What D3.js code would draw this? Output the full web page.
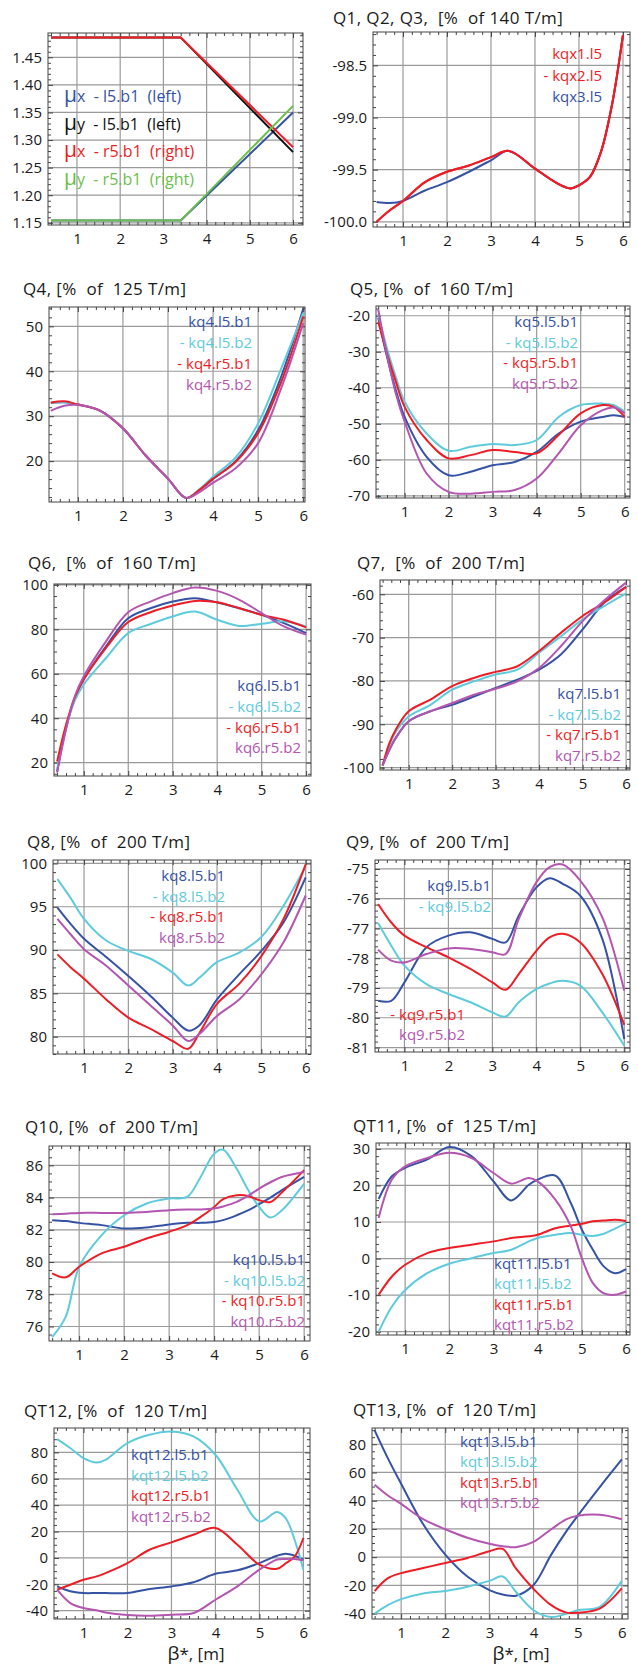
<!DOCTYPE html>
<html>
<head>
<meta charset="utf-8">
<script src="https://cdn.jsdelivr.net/npm/d3@7"></script>
<style>
body { margin: 0; background: #fff; }
svg text { font-family: "Open Sans", sans-serif; white-space: pre; fill: #1a1a1a; }
</style>
</head>
<body>
<svg id="chart" width="638" height="1670"></svg>
<script>
var BLUE = "#3552a4", CYAN = "#5ecbdc", RED = "#ee1d25", MAG = "#b455b0", GREEN = "#6cbf4a", BLACK = "#111111";

var xTicks = [1, 2, 3, 4, 5, 6];

// tunes (panel 1)
var betaMu = [0.4, 3.4, 6];
var muxL5 = [1.154, 1.154, 1.350];
var muyL5 = [1.486, 1.486, 1.278];
var muxR5 = [1.486, 1.486, 1.287];
var muyR5 = [1.154, 1.154, 1.362];
var muSub = ["x", "y", "x", "y"];
var muText = ["  - l5.b1  (left)", "  - l5.b1  (left)", "  - r5.b1  (right)", "  - r5.b1  (right)"];

// Q1, Q2, Q3
var betaQ13 = [0.4, 0.7, 1, 1.5, 2, 2.5, 3, 3.4, 4, 4.5, 4.8, 5, 5.25, 5.5, 5.75, 6];
var kqx1 = [-100.0, -99.89, -99.80, -99.62, -99.52, -99.46, -99.38, -99.32, -99.49, -99.63, -99.68, -99.65, -99.57, -99.33, -98.88, -98.21];
var kqx2 = [-100.0, -99.89, -99.80, -99.62, -99.52, -99.46, -99.38, -99.32, -99.49, -99.63, -99.68, -99.65, -99.57, -99.33, -98.88, -98.21];
var kqx3 = [-99.81, -99.82, -99.80, -99.70, -99.62, -99.52, -99.41, -99.32, -99.49, -99.63, -99.68, -99.65, -99.57, -99.33, -98.88, -98.21];

// Q4
var betaQ4 = [0.4, 0.7, 1, 1.5, 2, 2.5, 3, 3.4, 3.7, 4, 4.5, 5, 5.5, 6];
var kq4l5b1 = [33.0, 33.1, 32.6, 31.2, 27.3, 21.3, 16.1, 11.8, 13.6, 16.0, 20.0, 26.9, 38.5, 53.9];
var kq4l5b2 = [33.0, 33.1, 32.6, 31.2, 27.3, 21.3, 16.1, 11.8, 13.8, 16.5, 20.8, 28.4, 40.3, 53.0];
var kq4r5b1 = [33.0, 33.3, 32.6, 31.2, 27.3, 21.3, 16.1, 11.8, 13.6, 16.1, 19.8, 26.2, 37.3, 52.2];
var kq4r5b2 = [31.2, 32.3, 32.5, 31.2, 27.3, 21.3, 16.1, 11.8, 13.1, 15.2, 18.4, 24.0, 35.9, 50.7];

// Q5
var betaQ5 = [0.4, 0.6, 0.8, 1, 1.5, 2, 2.5, 3, 3.5, 4, 4.5, 5, 5.5, 5.75, 6];
var kq5l5b1 = [-20.5, -31.4, -40.6, -48.1, -59.2, -64.3, -63.3, -61.5, -60.6, -57.8, -52.7, -49.4, -48.1, -47.6, -48.1];
var kq5l5b2 = [-19.5, -29.1, -37.0, -43.9, -52.7, -57.5, -56.4, -55.6, -55.9, -54.5, -48.1, -44.8, -44.4, -44.8, -46.7];
var kq5r5b1 = [-21.7, -30.5, -38.3, -45.3, -54.5, -59.6, -58.7, -57.3, -57.8, -58.2, -53.1, -47.1, -44.8, -45.3, -48.1];
var kq5r5b2 = [-18.2, -30.9, -41.6, -49.4, -63.8, -68.9, -69.4, -68.9, -68.4, -65.2, -58.2, -50.4, -46.2, -45.5, -47.1];

// Q6
var betaQ6 = [0.4, 0.6, 0.8, 1, 1.5, 2, 2.5, 3, 3.5, 4, 4.5, 5, 5.5, 6];
var kq6l5b1 = [16.0, 35.5, 49.0, 57.5, 72.3, 85.0, 89.5, 92.5, 94.0, 92.1, 89.5, 86.5, 82.8, 78.3];
var kq6l5b2 = [17.0, 36.0, 48.0, 55.2, 67.1, 78.3, 82.4, 85.8, 88.0, 84.3, 81.5, 82.5, 83.6, 81.3];
var kq6r5b1 = [20.5, 37.0, 49.5, 57.5, 71.6, 83.3, 87.7, 90.7, 92.8, 92.2, 89.5, 86.5, 84.3, 80.9];
var kq6r5b2 = [15.5, 35.0, 50.0, 58.9, 74.6, 87.7, 92.5, 96.3, 98.8, 97.3, 93.3, 87.3, 81.3, 77.6];

// Q7
var betaQ7 = [0.4, 0.55, 0.7, 1, 1.5, 2, 2.5, 3, 3.5, 4, 4.5, 5, 5.5, 6];
var kq7l5b1 = [-99.5, -96.0, -93.2, -89.3, -87.0, -85.5, -83.6, -81.6, -79.7, -77.4, -73.9, -68.1, -61.9, -58.3];
var kq7l5b2 = [-99.5, -95.0, -91.8, -88.2, -85.5, -82.0, -80.1, -78.5, -77.4, -73.5, -69.7, -65.8, -62.7, -59.8];
var kq7r5b1 = [-99.5, -94.5, -91.3, -87.0, -84.3, -81.2, -79.3, -77.9, -76.6, -73.1, -68.9, -65.0, -61.9, -58.3];
var kq7r5b2 = [-99.5, -96.0, -93.2, -89.3, -87.0, -85.1, -83.2, -81.8, -80.1, -77.0, -72.0, -66.2, -61.4, -57.3];

// Q8
var betaQ8 = [0.4, 0.7, 1, 1.5, 2, 2.5, 3, 3.35, 3.6, 4, 4.5, 5, 5.5, 6];
var kq8l5b1 = [94.9, 93.0, 91.3, 89.2, 87.0, 84.7, 82.2, 80.7, 81.3, 84.3, 87.2, 89.9, 93.2, 98.4];
var kq8l5b2 = [98.2, 96.0, 93.6, 91.1, 89.9, 89.0, 87.4, 85.9, 86.8, 88.6, 89.7, 91.5, 95.1, 99.7];
var kq8r5b1 = [89.5, 88.0, 86.7, 84.3, 82.2, 80.9, 79.5, 78.6, 80.4, 83.8, 86.1, 89.3, 93.6, 99.9];
var kq8r5b2 = [93.6, 91.8, 90.1, 88.2, 85.9, 83.6, 81.3, 79.5, 80.3, 82.4, 84.3, 87.2, 90.9, 96.3];

// Q9
var betaQ9 = [0.4, 0.7, 1, 1.5, 2, 2.5, 3, 3.3, 3.6, 4, 4.3, 4.6, 5, 5.5, 6];
var kq9l5b1 = [-79.43, -79.43, -78.81, -77.63, -77.24, -77.13, -77.35, -77.47, -76.57, -75.62, -75.31, -75.5, -75.9, -77.35, -80.72];
var kq9l5b2 = [-76.82, -77.58, -78.25, -78.87, -79.2, -79.48, -79.82, -79.96, -79.48, -79.04, -78.85, -78.76, -78.92, -79.82, -80.94];
var kq9r5b1 = [-76.18, -76.8, -77.24, -77.63, -77.97, -78.36, -78.81, -79.06, -78.53, -77.75, -77.3, -77.18, -77.47, -78.53, -80.24];
var kq9r5b2 = [-77.71, -78.08, -78.14, -77.86, -77.67, -77.69, -77.8, -77.86, -76.68, -75.45, -74.94, -74.85, -75.39, -76.63, -79.09];

// Q10
var betaQ10 = [0.4, 0.7, 1, 1.5, 2, 2.5, 3, 3.4, 3.7, 4, 4.2, 4.5, 4.75, 5, 5.25, 5.5, 6];
var kq10l5b1 = [82.6, 82.54, 82.43, 82.29, 82.08, 82.14, 82.33, 82.43, 82.43, 82.49, 82.6, 82.9, 83.2, 83.59, 84.0, 84.45, 85.28];
var kq10l5b2 = [75.34, 76.6, 79.7, 81.67, 82.9, 83.63, 83.94, 84.04, 85.28, 86.72, 86.97, 85.79, 84.5, 83.42, 82.76, 83.2, 84.87];
var kq10r5b1 = [79.3, 79.05, 79.71, 80.54, 80.95, 81.46, 81.88, 82.29, 82.8, 83.42, 83.9, 84.14, 84.1, 83.84, 83.73, 84.3, 85.7];
var kq10r5b2 = [82.97, 83.0, 83.05, 83.05, 83.05, 83.11, 83.22, 83.26, 83.26, 83.32, 83.45, 83.73, 84.1, 84.56, 84.95, 85.28, 85.59];

// QT11
var betaQT11 = [0.4, 0.7, 1, 1.5, 2, 2.5, 3, 3.4, 3.8, 4, 4.4, 4.75, 5, 5.25, 5.5, 5.75, 6];
var kqt11l5b1 = [16.3, 22.5, 24.8, 27.1, 30.5, 28.0, 21.1, 15.9, 20.2, 21.6, 22.7, 15.2, 7.9, 2.4, -2.2, -4.0, -2.9];
var kqt11l5b2 = [-20.0, -13.1, -8.6, -4.0, -1.4, 0.1, 1.5, 2.4, 4.7, 5.6, 6.5, 7.0, 6.5, 6.2, 6.8, 8.2, 9.7];
var kqt11r5b1 = [-9.9, -4.9, -1.7, 1.5, 2.9, 3.8, 4.7, 5.6, 6.1, 6.5, 8.3, 9.0, 9.5, 10.2, 10.4, 10.6, 10.3];
var kqt11r5b2 = [11.1, 21.6, 25.2, 27.5, 28.9, 27.5, 23.4, 20.5, 22.0, 21.1, 16.1, 8.8, 0.1, -6.7, -9.5, -9.9, -9.0];

// QT12
var betaQT12 = [0.4, 0.7, 1, 1.3, 1.5, 2, 2.5, 3, 3.5, 4, 4.5, 5, 5.4, 5.6, 5.8, 6];
var kqt12l5b1 = [-21.6, -25.3, -26.6, -26.6, -26.6, -26.6, -23.6, -21.6, -18.5, -12.0, -9.4, -3.9, 1.7, 3.2, 1.7, -1.3];
var kqt12l5b2 = [90.1, 83.3, 75.7, 72.4, 74.4, 87.1, 93.4, 95.9, 92.1, 78.2, 51.7, 27.7, 34.8, 30.0, 13.8, -8.9];
var kqt12r5b1 = [-24.1, -20.3, -16.5, -14.0, -11.5, -3.9, 6.2, 11.8, 17.6, 22.7, 10.0, -5.1, -8.2, -4.0, 1.0, 15.1];
var kqt12r5b2 = [-24.1, -34.2, -38.0, -39.7, -41.3, -43.3, -43.8, -43.0, -41.8, -31.7, -21.6, -8.9, -1.3, -0.8, -0.8, -1.8];

// QT13
var betaQT13 = [0.4, 0.7, 1, 1.5, 2, 2.5, 3, 3.3, 3.6, 4, 4.4, 4.75, 5, 5.5, 6];
var kqt13l5b1 = [89.8, 70.0, 52.0, 23.3, 1.8, -13.7, -23.3, -26.4, -27.3, -19.7, 1.8, 18.6, 29.3, 49.6, 69.2];
var kqt13l5b2 = [-40.0, -34.0, -29.7, -25.7, -24.0, -20.9, -16.8, -13.7, -24.5, -37.6, -42.4, -40.0, -37.6, -35.2, -16.8];
var kqt13r5b1 = [-24.0, -14.9, -11.3, -7.7, -4.1, -0.6, 4.2, 5.9, -8.0, -22.5, -34.0, -39.3, -39.3, -36.4, -22.1];
var kqt13r5b2 = [51.3, 43.7, 37.7, 26.9, 19.8, 13.8, 9.5, 7.8, 7.1, 10.9, 19.8, 26.9, 29.3, 30.0, 26.9];

var fourColors = [BLUE, CYAN, RED, MAG];

var panels = [
  {box: [48, 33, 303, 225], xDom: [0.33, 6.23], yDom: [1.146, 1.494], yTicks: d3.range(1.15, 1.46, 0.05), yDec: 2, yMinor: 0.01,
   x: betaMu, series: [muxL5, muyL5, muxR5, muyR5], colors: [BLUE, BLACK, RED, GREEN], linear: true,
   mu: true, leg: {x: 64, y: 102, dy: 27.5, anchor: "start"}},
  {box: [373, 32, 630, 227], xDom: [0.318, 6.16], yDom: [-100.05, -98.18], yTicks: [-100, -99.5, -99, -98.5], yDec: 1, yMinor: 0.1,
   title: "Q1, Q2, Q3,  [%  of 140 T/m]", tx: 333, ty: 24,
   x: betaQ13, series: [kqx3, kqx1, kqx2], colors: [BLUE, RED, RED],
   labels: ["kqx1.l5", "- kqx2.l5", "kqx3.l5"], labelColors: [RED, RED, BLUE],
   leg: {x: 602, y: 59, dy: 21.5, anchor: "end"}},
  {box: [49, 307, 305, 502], xDom: [0.36, 6.04], yDom: [10.9, 54.3], yTicks: [20, 30, 40, 50], yDec: 0, yMinor: 2,
   title: "Q4, [%  of  125 T/m]", tx: 23, ty: 295,
   x: betaQ4, series: [kq4l5b1, kq4l5b2, kq4r5b1, kq4r5b2], colors: fourColors,
   labels: ["kq4.l5.b1", "- kq4.l5.b2", "- kq4.r5.b1", "kq4.r5.b2"],
   leg: {x: 252, y: 327, dy: 21, anchor: "end"}},
  {box: [376, 306, 630, 498], xDom: [0.35, 6.12], yDom: [-70.6, -17.3], yTicks: [-70, -60, -50, -40, -30, -20], yDec: 0, yMinor: 2,
   title: "Q5, [%  of  160 T/m]", tx: 350, ty: 295,
   x: betaQ5, series: [kq5l5b1, kq5l5b2, kq5r5b1, kq5r5b2], colors: fourColors,
   labels: ["kq5.l5.b1", "- kq5.l5.b2", "- kq5.r5.b1", "kq5.r5.b2"],
   leg: {x: 578, y: 327, dy: 20.7, anchor: "end"}},
  {box: [54, 584, 311, 776], xDom: [0.33, 6.11], yDom: [14.0, 100.4], yTicks: [20, 40, 60, 80, 100], yDec: 0, yMinor: 5,
   title: "Q6,  [%  of  160 T/m]", tx: 28, ty: 569,
   x: betaQ6, series: [kq6l5b1, kq6l5b2, kq6r5b1, kq6r5b2], colors: fourColors,
   labels: ["kq6.l5.b1", "- kq6.l5.b2", "- kq6.r5.b1", "kq6.r5.b2"],
   leg: {x: 301, y: 691, dy: 20.8, anchor: "end"}},
  {box: [380, 580, 630, 770], xDom: [0.34, 6.09], yDom: [-100.55, -56.7], yTicks: [-100, -90, -80, -70, -60], yDec: 0, yMinor: 2,
   title: "Q7,  [%  of  200 T/m]", tx: 357, ty: 569,
   x: betaQ7, series: [kq7l5b1, kq7l5b2, kq7r5b1, kq7r5b2], colors: fourColors,
   labels: ["kq7.l5.b1", "- kq7.l5.b2", "- kq7.r5.b1", "kq7.r5.b2"],
   leg: {x: 621, y: 699, dy: 20.7, anchor: "end"}},
  {box: [53, 860, 311, 1054], xDom: [0.30, 6.12], yDom: [78.0, 100.4], yTicks: [80, 85, 90, 95, 100], yDec: 0, yMinor: 1,
   title: "Q8, [%  of  200 T/m]", tx: 27, ty: 848,
   x: betaQ8, series: [kq8l5b1, kq8l5b2, kq8r5b1, kq8r5b2], colors: fourColors,
   labels: ["kq8.l5.b1", "- kq8.l5.b2", "- kq8.r5.b1", "kq8.r5.b2"],
   leg: {x: 225, y: 881, dy: 20.5, anchor: "end"}},
  {box: [375, 860, 630, 1052], xDom: [0.33, 6.13], yDom: [-81.15, -74.7], yTicks: [-81, -80, -79, -78, -77, -76, -75], yDec: 0, yMinor: 0.2,
   title: "Q9, [%  of  200 T/m]", tx: 346, ty: 848,
   x: betaQ9, series: [kq9l5b1, kq9l5b2, kq9r5b1, kq9r5b2], colors: fourColors,
   labels: ["kq9.l5.b1", "- kq9.l5.b2", "- kq9.r5.b1", "kq9.r5.b2"],
   legs: [{x: 491, y: 891, dy: 21, anchor: "end", n: [0, 1]}, {x: 465, y: 1020, dy: 19.5, anchor: "end", n: [2, 3]}]},
  {box: [49, 1146, 310, 1341], xDom: [0.33, 6.13], yDom: [75.1, 87.2], yTicks: [76, 78, 80, 82, 84, 86], yDec: 0, yMinor: 0.5,
   title: "Q10, [%  of  200 T/m]", tx: 25, ty: 1133,
   x: betaQ10, series: [kq10l5b1, kq10l5b2, kq10r5b1, kq10r5b2], colors: fourColors,
   labels: ["kq10.l5.b1", "- kq10.l5.b2", "- kq10.r5.b1", "kq10.r5.b2"],
   leg: {x: 305, y: 1265, dy: 20.7, anchor: "end"}},
  {box: [376, 1143, 630, 1335], xDom: [0.34, 6.09], yDom: [-20.9, 31.6], yTicks: [-20, -10, 0, 10, 20, 30], yDec: 0, yMinor: 2,
   title: "QT11, [%  of  125 T/m]", tx: 353, ty: 1132,
   x: betaQT11, series: [kqt11l5b1, kqt11l5b2, kqt11r5b1, kqt11r5b2], colors: fourColors,
   labels: ["kqt11.l5.b1", "kqt11.l5.b2", "kqt11.r5.b1", "kqt11.r5.b2"],
   leg: {x: 494, y: 1269, dy: 20.4, anchor: "start"}},
  {box: [54, 1428, 310, 1619], xDom: [0.33, 6.15], yDom: [-46.3, 98.5], yTicks: [-40, -20, 0, 20, 40, 60, 80], yDec: 0, yMinor: 5,
   title: "QT12, [%  of  120 T/m]", tx: 24, ty: 1417,
   x: betaQT12, series: [kqt12l5b1, kqt12l5b2, kqt12r5b1, kqt12r5b2], colors: fourColors,
   labels: ["kqt12.l5.b1", "kqt12.l5.b2", "kqt12.r5.b1", "kqt12.r5.b2"],
   leg: {x: 131, y: 1460, dy: 20.7, anchor: "start"}, xlabel: 196},
  {box: [372, 1428, 628, 1619], xDom: [0.34, 6.14], yDom: [-43.8, 91.5], yTicks: [-40, -20, 0, 20, 40, 60, 80], yDec: 0, yMinor: 5,
   title: "QT13, [%  of  120 T/m]", tx: 353, ty: 1416,
   x: betaQT13, series: [kqt13l5b1, kqt13l5b2, kqt13r5b1, kqt13r5b2], colors: fourColors,
   labels: ["kqt13.l5.b1", "kqt13.l5.b2", "kqt13.r5.b1", "kqt13.r5.b2"],
   leg: {x: 460, y: 1447, dy: 20.4, anchor: "start"}, xlabel: 521}
];

var svg = d3.select("#chart");

function minorTicks(dom, step, majors) {
  var lo = Math.ceil(dom[0] / step - 1e-9), hi = Math.floor(dom[1] / step + 1e-9);
  return d3.range(lo, hi + 1).map(function(i) { return i * step; })
    .filter(function(v) { return !majors.some(function(m) { return Math.abs(m - v) < step / 10; }); });
}

panels.forEach(function(p, pi) {
  var l = p.box[0], t = p.box[1], r = p.box[2], b = p.box[3];
  var x = d3.scaleLinear().domain(p.xDom).range([l, r]);
  var y = d3.scaleLinear().domain(p.yDom).range([b, t]);
  var g = svg.append("g");

  var yMajor = p.yTicks.map(function(v) { return +v.toFixed(4); });
  var xMinor = minorTicks(p.xDom, 0.2, xTicks);
  var yMinor = minorTicks(p.yDom, p.yMinor, yMajor);

  // grid
  g.append("g").selectAll("line").data(xTicks).join("line")
      .attr("x1", x).attr("x2", x).attr("y1", t).attr("y2", b)
      .attr("stroke", "#9a9a9a").attr("stroke-width", 1.2);
  g.append("g").selectAll("line").data(yMajor).join("line")
      .attr("y1", y).attr("y2", y).attr("x1", l).attr("x2", r)
      .attr("stroke", "#9a9a9a").attr("stroke-width", 1.2);

  // axes, ticks pointing inward like a Mathematica frame
  var fmt = function(d) { return d.toFixed(p.yDec); };
  var axes = [
    {tr: "translate(0," + b + ")", ax: d3.axisBottom(x).tickValues(xTicks).tickSize(-5).tickPadding(8).tickFormat(d3.format("d"))},
    {tr: "translate(0," + b + ")", ax: d3.axisBottom(x).tickValues(xMinor).tickSize(-3).tickFormat("")},
    {tr: "translate(0," + t + ")", ax: d3.axisTop(x).tickValues(xTicks).tickSize(-5).tickFormat("")},
    {tr: "translate(0," + t + ")", ax: d3.axisTop(x).tickValues(xMinor).tickSize(-3).tickFormat("")},
    {tr: "translate(" + l + ",0)", ax: d3.axisLeft(y).tickValues(yMajor).tickSize(-5).tickPadding(6).tickFormat(fmt)},
    {tr: "translate(" + l + ",0)", ax: d3.axisLeft(y).tickValues(yMinor).tickSize(-3).tickFormat("")},
    {tr: "translate(" + r + ",0)", ax: d3.axisRight(y).tickValues(yMajor).tickSize(-5).tickFormat("")},
    {tr: "translate(" + r + ",0)", ax: d3.axisRight(y).tickValues(yMinor).tickSize(-3).tickFormat("")}
  ];
  axes.forEach(function(a) {
    var ag = g.append("g").attr("transform", a.tr).call(a.ax);
    ag.select(".domain").remove();
    ag.selectAll(".tick line").attr("stroke", "#444");
    ag.selectAll("text").attr("font-family", "Open Sans, sans-serif")
        .attr("font-size", 15).attr("fill", "#1a1a1a");
  });

  // lines
  var clipId = "clip" + pi;
  svg.append("clipPath").attr("id", clipId).append("rect")
      .attr("x", l).attr("y", t).attr("width", r - l).attr("height", b - t);
  var line = d3.line()
      .x(function(d, i) { return x(p.x[i]); })
      .y(function(d) { return y(d); })
      .curve(p.linear ? d3.curveLinear : d3.curveCatmullRom.alpha(0.5));
  g.append("g").attr("clip-path", "url(#" + clipId + ")")
    .selectAll("path").data(p.series).join("path")
      .attr("d", line)
      .attr("fill", "none")
      .attr("stroke", function(d, i) { return p.colors[i]; })
      .attr("stroke-width", 2)
      .attr("stroke-linejoin", "round");

  // frame
  g.append("rect").attr("x", l).attr("y", t).attr("width", r - l).attr("height", b - t)
      .attr("fill", "none").attr("stroke", "#444").attr("stroke-width", 1);

  // title
  if (p.title) {
    g.append("text").attr("x", p.tx).attr("y", p.ty)
        .attr("font-size", 17).attr("letter-spacing", 0.4).text(p.title);
  }

  // legend
  if (p.mu) {
    muSub.forEach(function(s, i) {
      var tx = g.append("text").attr("x", p.leg.x).attr("y", p.leg.y + i * p.leg.dy)
          .style("fill", p.colors[i]);
      tx.append("tspan").attr("font-size", 21).text("\u03bc");
      tx.append("tspan").attr("font-size", 16).text(s + muText[i]);
    });
  } else {
    var legs = p.legs || [Object.assign({n: d3.range(p.labels.length)}, p.leg)];
    legs.forEach(function(lg) {
      lg.n.forEach(function(k, j) {
        g.append("text").attr("x", lg.x).attr("y", lg.y + j * lg.dy)
            .attr("text-anchor", lg.anchor).attr("font-size", 15)
            .style("fill", (p.labelColors || p.colors)[k])
            .text(p.labels[k]);
      });
    });
  }

  if (p.xlabel) {
    var xl = g.append("text").attr("x", p.xlabel).attr("y", 1660)
        .attr("text-anchor", "middle").attr("font-size", 17);
    xl.append("tspan").attr("font-size", 19).text("\u03b2");
    xl.append("tspan").text("*, [m]");
  }
});
</script>
</body>
</html>
